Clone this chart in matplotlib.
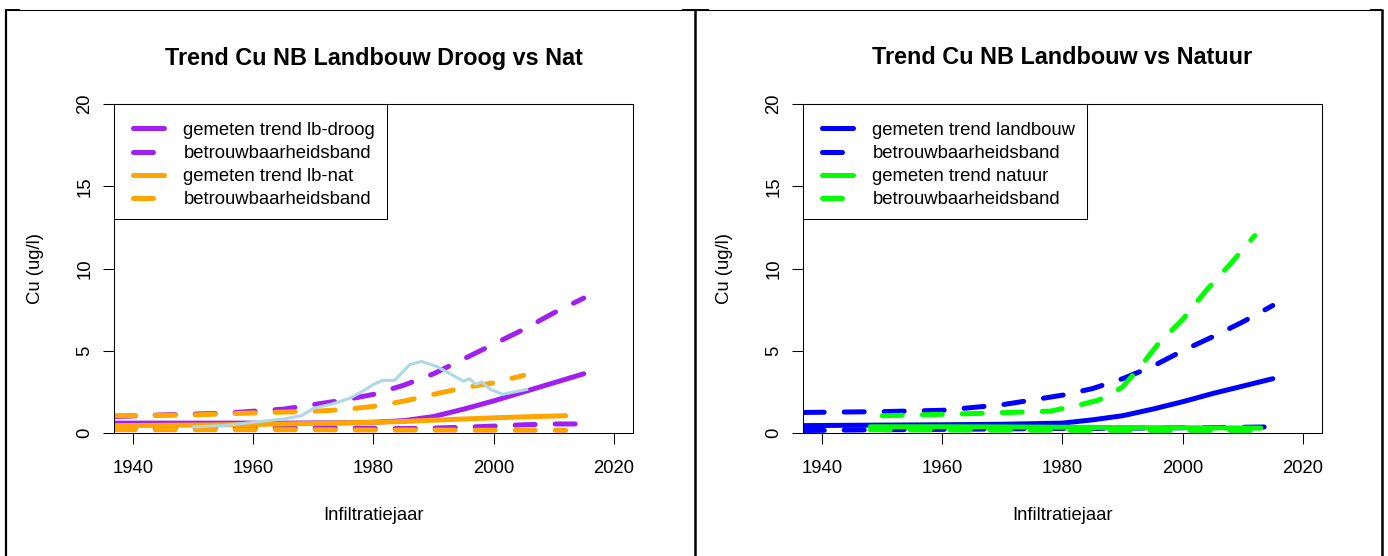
import numpy as np
import matplotlib
matplotlib.use("Agg")
import matplotlib.pyplot as plt
from matplotlib.lines import Line2D
from matplotlib.patches import Rectangle

plt.rcParams['font.family'] = ['Liberation Sans', 'DejaVu Sans']

# DATA BLOCK
# left panel: landbouw droog vs nat
droog_jaar = [1937, 1945, 1955, 1965, 1975, 1980, 1985, 1990, 1995, 2000, 2005, 2010, 2015]
droog_trend = [0.6, 0.6, 0.6, 0.6, 0.62, 0.65, 0.75, 1.0, 1.45, 1.95, 2.5, 3.05, 3.6]
droog_boven = [1.0, 1.1, 1.2, 1.45, 2.0, 2.35, 2.9, 3.6, 4.5, 5.4, 6.3, 7.3, 8.2]
droog_onder = [0.3, 0.3, 0.3, 0.3, 0.3, 0.28, 0.27, 0.3, 0.35, 0.42, 0.5, 0.55, 0.55]

nat_jaar = [1937, 1950, 1960, 1970, 1980, 1985, 1990, 1995, 2000, 2005, 2012]
nat_trend = [0.45, 0.48, 0.52, 0.58, 0.65, 0.7, 0.78, 0.85, 0.92, 0.98, 1.05]
nat_onder = [0.2, 0.2, 0.2, 0.2, 0.18, 0.18, 0.18, 0.17, 0.17, 0.17, 0.16]
nat_boven_jaar = [1937, 1950, 1960, 1970, 1975, 1980, 1985, 1990, 1995, 2000, 2005]
nat_boven = [1.05, 1.1, 1.22, 1.32, 1.42, 1.62, 1.93, 2.35, 2.75, 3.05, 3.5]

meting_jaar = [1950, 1955, 1960, 1965, 1968, 1970, 1973, 1976, 1978, 1980, 1981.5, 1983.5,
               1986, 1988, 1990.5, 1993, 1995, 1996, 1997, 1998, 1999.5, 2001.5, 2003.5, 2005.5]
meting_cu = [0.37, 0.45, 0.65, 0.85, 1.05, 1.5, 1.75, 2.1, 2.5, 2.95, 3.2, 3.2,
             4.15, 4.35, 4.05, 3.55, 3.15, 3.3, 2.95, 3.1, 2.65, 2.35, 2.5, 2.65]

# right panel: landbouw vs natuur
landbouw_jaar = [1937, 1950, 1960, 1970, 1980, 1985, 1990, 1995, 2000, 2005, 2010, 2015]
landbouw_trend = [0.45, 0.48, 0.5, 0.53, 0.6, 0.8, 1.05, 1.45, 1.9, 2.4, 2.85, 3.3]
landbouw_boven = [1.25, 1.3, 1.38, 1.72, 2.3, 2.7, 3.3, 4.05, 5.0, 5.85, 6.75, 7.75]
landbouw_onder = [0.15, 0.2, 0.22, 0.25, 0.28, 0.28, 0.3, 0.3, 0.32, 0.33, 0.35, 0.37]

natuur_jaar = [1948, 1960, 1970, 1980, 1990, 2000, 2013]
natuur_trend = [0.38, 0.38, 0.37, 0.35, 0.33, 0.32, 0.3]
natuur_onder = [0.2, 0.18, 0.17, 0.16, 0.15, 0.15, 0.15]
natuur_boven_jaar = [1950, 1958, 1965, 1972, 1978, 1983, 1986, 1988, 1990, 1993, 1996, 2000, 2004, 2008, 2012]
natuur_boven = [1.05, 1.12, 1.18, 1.26, 1.33, 1.72, 2.0, 2.35, 2.8, 4.05, 5.45, 6.9, 8.7, 10.3, 12.0]

x_ticks = [1940, 1960, 1980, 2000, 2020]
y_ticks = [0, 5, 10, 15, 20]

# CONST BLOCK
W, H = 1388, 556
DPI = 100
LW = 3.6       # ~5 px, like R lwd=5
DASH = (4, 4)
FS = 13.3
FS_TITLE = 16.8


def fx(x):
    return x / W


def fy(y):
    return 1 - y / H


def trend_line(ax, x, y, color, dashed=False, label=None):
    kw = dict(color=color, lw=LW, solid_capstyle='round', dash_capstyle='round', label=label)
    if dashed:
        kw['dashes'] = DASH
    ax.plot(x, y, **kw)


def setup_axes(fig, left, right, top=104, bottom=433):
    ax = fig.add_axes([fx(left), fy(bottom), (right - left) / W, (bottom - top) / H])
    ax.set_xlim(1936.8, 2023.2)
    ax.set_ylim(0, 20)
    ax.set_xticks(x_ticks)
    ax.set_yticks(y_ticks)
    ax.set_yticklabels([str(v) for v in y_ticks], rotation=90, va='center')
    ax.tick_params(direction='out', length=7.9, width=0.75, labelsize=FS, colors='black')
    ax.tick_params(axis='x', pad=11.5)
    ax.tick_params(axis='y', pad=7)
    for s in ax.spines.values():
        s.set_linewidth(0.75)
        s.set_color('black')
    return ax


def legend_box(ax, left, right, box_right, top=104, bottom=219):
    # R-style legend: handles + text without frame, frame drawn in pixel coordinates
    width = right - left
    leg = ax.legend(loc='upper left', bbox_to_anchor=(1 / width, 1), borderaxespad=0,
                    fontsize=FS, frameon=False, handlelength=1.68, handletextpad=1.05,
                    borderpad=0.97, labelspacing=0.335)
    rect = Rectangle((fx(left), fy(bottom)), (box_right - left) / W, (bottom - top) / H,
                     transform=fig.transFigure, fill=True, facecolor='white',
                     edgecolor='black', lw=0.75, zorder=4.5)
    ax.add_artist(rect)
    rect.set_clip_on(False)
    leg.set_zorder(5)


fig = plt.figure(figsize=(W / DPI, H / DPI), dpi=DPI)

# ---- left panel
ax1 = setup_axes(fig, 114, 633)
trend_line(ax1, droog_jaar, droog_trend, '#A020F0', label='gemeten trend lb-droog')
trend_line(ax1, droog_jaar, droog_boven, '#A020F0', dashed=True, label='betrouwbaarheidsband')
trend_line(ax1, droog_jaar, droog_onder, '#A020F0', dashed=True)
trend_line(ax1, nat_jaar, nat_trend, '#FFA500', label='gemeten trend lb-nat')
trend_line(ax1, nat_boven_jaar, nat_boven, '#FFA500', dashed=True, label='betrouwbaarheidsband')
trend_line(ax1, nat_jaar, nat_onder, '#FFA500', dashed=True)
ax1.plot(meting_jaar, meting_cu, color='#ADD8E6', lw=2.2)
legend_box(ax1, 114, 633, 387)

# ---- right panel
ax2 = setup_axes(fig, 803, 1322)
trend_line(ax2, landbouw_jaar, landbouw_trend, '#0000FF', label='gemeten trend landbouw')
trend_line(ax2, landbouw_jaar, landbouw_boven, '#0000FF', dashed=True, label='betrouwbaarheidsband')
trend_line(ax2, landbouw_jaar, landbouw_onder, '#0000FF', dashed=True)
trend_line(ax2, natuur_jaar, natuur_trend, '#00FF00', label='gemeten trend natuur')
trend_line(ax2, natuur_boven_jaar, natuur_boven, '#00FF00', dashed=True, label='betrouwbaarheidsband')
trend_line(ax2, natuur_jaar, natuur_onder, '#00FF00', dashed=True)
legend_box(ax2, 803, 1322, 1087)

# titles and axis labels (positions in pixels of the original)
for cx, title in [(373.5, 'Trend Cu NB Landbouw Droog vs Nat'),
                  (1062.5, 'Trend Cu NB Landbouw vs Natuur')]:
    fig.text(fx(cx), fy(58), title, fontsize=FS_TITLE, fontweight='bold', ha='center', va='center')
    fig.text(fx(cx), fy(516), 'Infiltratiejaar', fontsize=FS, ha='center', va='center')
for cx in (35, 724):
    fig.text(fx(cx), fy(268), 'Cu (ug/l)', fontsize=FS, rotation=90, ha='center', va='center')

# table cell borders around the two plots
def border(x0, y0, x1, y1, lw):
    fig.add_artist(Line2D([fx(x0), fx(x1)], [fy(y0), fy(y1)], transform=fig.transFigure,
                          color='black', lw=lw, solid_capstyle='butt'))

border(6, 9.5, 1383, 9.5, 0.8)
border(6, 9, 6, 556, 1.6)
border(695, 9, 695, 556, 1.8)
border(1382, 9, 1382, 556, 1.8)
border(6, 10.3, 20, 10.3, 1.4)
border(682, 10.3, 709, 10.3, 1.4)
border(1370, 10.3, 1382, 10.3, 1.4)

plt.savefig("out.png", dpi=DPI)
plt.close("all")
